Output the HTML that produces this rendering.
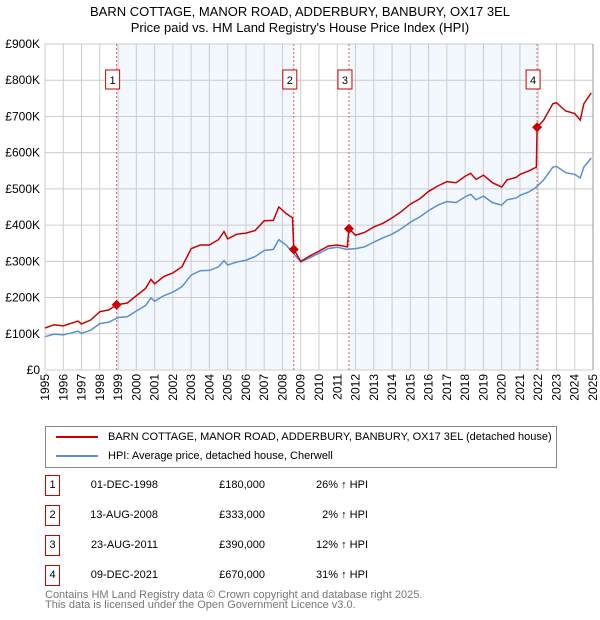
<!DOCTYPE html>
<html><head><meta charset="utf-8"><style>
body{margin:0;background:#fff;font-family:"Liberation Sans","DejaVu Sans",sans-serif;}
#wrap{position:relative;width:600px;height:620px;overflow:hidden}
.t{position:absolute;font-size:12px;color:#000}
</style></head><body><div id="wrap">
<div class="t" style="left:0;width:600px;text-align:center;top:4px;font-size:13px;line-height:16px">BARN COTTAGE, MANOR ROAD, ADDERBURY, BANBURY, OX17 3EL<br>Price paid vs. HM Land Registry's House Price Index (HPI)</div>
<svg id="chart" width="600" height="420" style="position:absolute;left:0;top:0" font-family="Liberation Sans, DejaVu Sans, sans-serif"></svg>
<div style="position:absolute;left:45px;top:426px;width:512px;height:42px;border:1px solid #888;box-sizing:border-box">
 <div style="position:absolute;left:10px;top:4px;font-size:11px;white-space:nowrap"><span style="display:inline-block;width:42px;height:2px;background:#cc0000;vertical-align:middle;margin-right:10px"></span>BARN COTTAGE, MANOR ROAD, ADDERBURY, BANBURY, OX17 3EL (detached house)</div>
 <div style="position:absolute;left:10px;top:23px;font-size:11px;white-space:nowrap"><span style="display:inline-block;width:42px;height:2px;background:#5b8fd0;vertical-align:middle;margin-right:10px"></span>HPI: Average price, detached house, Cherwell</div>
</div>
<div id="tbl"></div>
<div class="t" style="left:45px;top:590px;font-size:11px;color:#777;line-height:10px">Contains HM Land Registry data © Crown copyright and database right 2025.<br>This data is licensed under the Open Government Licence v3.0.</div>
</div>
<script>
const hpiX=[1995.0,1995.5,1996.0,1996.5,1996.8,1997.0,1997.5,1998.0,1998.5,1999.0,1999.5,2000.0,2000.5,2000.8,2001.0,2001.5,2002.0,2002.5,2003.0,2003.5,2004.0,2004.5,2004.8,2005.0,2005.5,2006.0,2006.5,2007.0,2007.5,2007.8,2008.2,2008.6,2009.0,2009.5,2010.0,2010.5,2011.0,2011.5,2012.0,2012.5,2013.0,2013.5,2014.0,2014.5,2015.0,2015.5,2016.0,2016.5,2017.0,2017.5,2018.0,2018.3,2018.6,2019.0,2019.5,2020.0,2020.3,2020.8,2021.0,2021.5,2021.9,2022.3,2022.8,2023.0,2023.5,2024.0,2024.3,2024.5,2024.9];
const hpiY=[92,99,97,103,107,101,110,128,132,145,147,163,178,199,190,205,215,230,262,274,275,285,302,290,298,303,313,330,333,360,345,322,298,310,322,335,339,333,335,340,353,365,375,390,408,422,440,455,465,462,478,485,470,480,462,455,470,475,482,492,505,525,560,562,545,540,530,560,585];
const redX=[1995.0,1995.5,1996.0,1996.5,1996.8,1997.0,1997.5,1998.0,1998.5,1998.92,1999.5,2000.0,2000.5,2000.8,2001.0,2001.5,2002.0,2002.5,2003.0,2003.5,2004.0,2004.5,2004.8,2005.0,2005.5,2006.0,2006.5,2007.0,2007.5,2007.8,2008.2,2008.55,2008.62,2009.0,2009.5,2010.0,2010.5,2011.0,2011.55,2011.64,2012.0,2012.5,2013.0,2013.5,2014.0,2014.5,2015.0,2015.5,2016.0,2016.5,2017.0,2017.5,2018.0,2018.3,2018.6,2019.0,2019.5,2020.0,2020.3,2020.8,2021.0,2021.5,2021.9,2021.94,2022.3,2022.8,2023.0,2023.5,2024.0,2024.3,2024.5,2024.9];
const redY=[116,125,122,130,135,127,138,161,166,180,185,205,225,250,238,258,268,285,335,345,345,360,382,362,375,378,385,412,413,450,432,420,333,300,315,328,342,345,340,390,372,380,395,405,420,437,458,472,493,508,520,517,535,543,526,538,517,505,525,532,540,550,560,670,690,735,738,715,708,690,735,765];
const saleX=[1998.92,2008.62,2011.64,2021.94];
const saleY=[180,333,390,670];
const saleDates=["01-DEC-1998","13-AUG-2008","23-AUG-2011","09-DEC-2021"];
const salePrices=["£180,000","£333,000","£390,000","£670,000"];
const saleHpi=["26% ↑ HPI","2% ↑ HPI","12% ↑ HPI","31% ↑ HPI"];
const yTicks=[0,100,200,300,400,500,600,700,800,900];
const yTickLabels=["£0","£100K","£200K","£300K","£400K","£500K","£600K","£700K","£800K","£900K"];
const xTicks=[1995,1996,1997,1998,1999,2000,2001,2002,2003,2004,2005,2006,2007,2008,2009,2010,2011,2012,2013,2014,2015,2016,2017,2018,2019,2020,2021,2022,2023,2024,2025];

const L=45,R=593,T=44,B=370;
const sx=v=>L+(v-1995)/30*(R-L);
const sy=v=>B-v/900*(B-T);
const svg=document.getElementById('chart');
const NS='http://www.w3.org/2000/svg';
function mk(tag,attrs,parent){const e=document.createElementNS(NS,tag);for(const k in attrs)e.setAttribute(k,attrs[k]);(parent||svg).appendChild(e);return e;}
for(let i=0;i<saleX.length;i+=2){
 const x1=sx(saleX[i]),x2=(i+1<saleX.length)?sx(saleX[i+1]):R;
 const r=mk('rect',{x:x1,y:T,width:x2-x1,height:B-T,fill:'#eef3fd',opacity:0.7});
 
 
}
xTicks.forEach(v=>{const l=mk('line',{x1:sx(v),x2:sx(v),y1:T,y2:B,stroke:'#ccc','stroke-width':1});
 
 const t=mk('text',{x:0,y:0,'font-size':12,'text-anchor':'end',transform:`translate(${sx(v)+4},${B+4}) rotate(-90)`});
 t.textContent=v;});
yTicks.forEach((v,i)=>{const l=mk('line',{x1:L,x2:R,y1:sy(v),y2:sy(v),stroke:'#ccc','stroke-width':1});
 
 const t=mk('text',{x:L-5,y:sy(v)+4,'font-size':12,'text-anchor':'end'});
 t.textContent=yTickLabels[i];});
const rb=mk('line',{x1:R,x2:R,y1:T,y2:B,stroke:'#999','stroke-width':1});

saleX.forEach(v=>{const l=mk('line',{x1:sx(v),x2:sx(v),y1:T,y2:B,stroke:'#e86060','stroke-width':1,'stroke-dasharray':'2,2'});
 });
const hp=mk('polyline',{points:hpiX.map((x,i)=>sx(x)+','+sy(hpiY[i])).join(' '),fill:'none',stroke:'#5b8fd0','stroke-width':1.5});

const rp=mk('polyline',{points:redX.map((x,i)=>sx(x)+','+sy(redY[i])).join(' '),fill:'none',stroke:'#cc0000','stroke-width':1.5});

saleX.forEach((v,i)=>{const x=sx(v),y=sy(saleY[i]);
 const d=mk('polygon',{points:`${x},${y-5} ${x+5},${y} ${x},${y+5} ${x-5},${y}`,fill:'#cc0000'});
 
 const g=mk('rect',{x:x-11,y:70,width:14,height:19,fill:'#fff',stroke:'#cc0000','stroke-width':1});
 
 const t=mk('text',{x:x-4,y:84,'font-size':11,'text-anchor':'middle'});t.textContent=i+1;
 });
const tbl=document.getElementById('tbl');
saleDates.forEach((d,i)=>{const top=475+i*30;
 const row=document.createElement('div');
 
 row.style.cssText=`position:absolute;left:0;top:${top}px;width:600px;height:20px;font-size:11px`;
 row.innerHTML=`<div style="position:absolute;left:45px;top:0;width:15px;height:21px;border:1px solid #cc0000;box-sizing:border-box;text-align:center;line-height:19px">${i+1}</div>
 <div style="position:absolute;left:60px;width:98px;text-align:right;line-height:20px">${d}</div>
 <div style="position:absolute;left:180px;width:85px;text-align:right;line-height:20px">${salePrices[i]}</div>
 <div style="position:absolute;left:288px;width:80px;text-align:right;line-height:20px">${saleHpi[i]}</div>`;
 tbl.appendChild(row);});
</script></body></html>
